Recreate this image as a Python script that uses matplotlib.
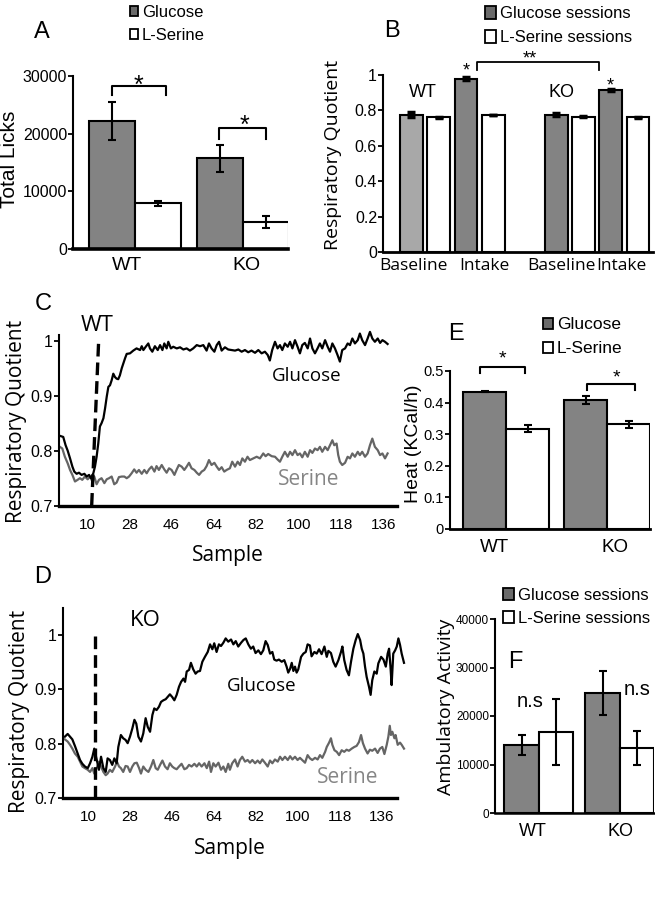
import matplotlib
matplotlib.use('Agg')
import matplotlib.pyplot as plt
from matplotlib.patches import Rectangle

SANS = 'Liberation Sans'
HUM = 'Open Sans'
plt.rcParams['font.family'] = [SANS, 'DejaVu Sans']

# ---------------- data ----------------
groups = ['WT', 'KO']
licks_glucose = [22200, 15700]
licks_glucose_err = [3300, 2300]
licks_serine = [7900, 4700]
licks_serine_err = [400, 1000]

rq_phases = ['Baseline', 'Intake', 'Baseline', 'Intake']
rq_glucose = [0.775, 0.98, 0.775, 0.915]
rq_glucose_err = [0.015, 0.006, 0.008, 0.007]
rq_serine = [0.76, 0.775, 0.765, 0.76]
rq_serine_err = [0.004, 0.0, 0.003, 0.004]

heat_glucose = [0.435, 0.408]
heat_glucose_err = [0.002, 0.012]
heat_serine = [0.318, 0.331]
heat_serine_err = [0.012, 0.010]

amb_glucose = [14000, 24700]
amb_glucose_err = [2000, 4500]
amb_serine = [16700, 13500]
amb_serine_err = [6800, 3500]

sample_ticks = [10, 28, 46, 64, 82, 100, 118, 136]

wt_glucose_sample = [-1.5, -0.1, 0.9, 1.8, 2.8, 3.8, 4.6, 5.6, 6.6, 7.7, 8.9, 9.9, 10.9, 11.7, 12.7, 13.4, 14.1,
                     14.8, 15.5, 16.2, 17.0, 17.7, 18.4, 19.1, 19.8, 20.5, 21.2, 21.9, 22.6, 23.3, 24.0, 24.8, 25.5,
                     26.2, 26.9, 28.3, 29.7, 31.1, 32.6, 33.3, 34.0, 35.0, 36.1, 36.8, 37.8, 38.9, 40.1, 41.1, 42.1,
                     42.9, 43.9, 44.6, 45.7, 46.7, 48.2, 49.6, 51.0, 52.4, 53.8, 55.2, 56.7, 58.1, 59.5, 60.9, 61.9,
                     63.0, 64.2, 65.2, 66.2, 67.3, 68.7, 70.1, 71.5, 73.0, 74.4, 75.8, 77.2, 78.6, 80.0, 81.5, 82.9,
                     84.3, 85.7, 86.9, 87.8, 88.8, 90.0, 91.1, 92.1, 93.1, 94.2, 95.4, 96.4, 97.4, 98.5, 99.6, 100.6,
                     101.6, 102.7, 103.9, 104.9, 105.9, 107.0, 108.1, 109.1, 110.1, 111.3, 112.4, 113.4, 114.4, 115.5,
                     116.6, 117.6, 118.6, 119.8, 120.9, 121.9, 122.9, 124.0, 125.2, 126.1, 127.1, 128.3, 129.4, 130.4,
                     131.4, 132.5, 133.7, 134.7, 135.7, 136.8, 137.9]
wt_glucose_rq = [0.827, 0.825, 0.81, 0.80, 0.786, 0.771, 0.762, 0.758, 0.76, 0.756, 0.758, 0.753, 0.756, 0.75, 0.759,
                 0.771, 0.789, 0.813, 0.844, 0.85, 0.859, 0.877, 0.898, 0.916, 0.919, 0.928, 0.94, 0.934, 0.931, 0.93,
                 0.937, 0.95, 0.959, 0.968, 0.976, 0.977, 0.982, 0.986, 0.983, 0.99, 0.983, 0.989, 0.995, 0.986, 0.98,
                 0.99, 0.983, 0.992, 0.983, 0.995, 0.986, 0.998, 0.986, 0.989, 0.986, 0.988, 0.984, 0.986, 0.982,
                 0.986, 0.992, 0.99, 0.992, 0.982, 0.995, 0.986, 0.98, 0.992, 0.998, 0.982, 0.988, 0.984,
                 0.983, 0.982, 0.984, 0.98, 0.983, 0.979, 0.982, 0.978, 0.983, 0.977, 0.98, 0.974, 0.964, 0.983,
                 0.998, 0.986, 0.992, 0.983, 0.995, 0.989, 0.998, 0.986, 1.001, 0.989, 0.977, 0.992, 0.996, 0.986,
                 1.004, 0.986, 0.977, 0.986, 0.995, 0.986, 1.001, 0.989, 0.98, 0.995, 0.986, 0.974, 0.962, 0.983,
                 0.986, 0.995, 0.992, 1.004, 0.995, 1.001, 1.013, 1.001, 0.992, 1.004, 1.016, 1.004, 0.998, 1.004,
                 0.996, 1.001, 0.998, 0.994]

wt_serine_sample = [-1.5, -0.5, 0.6, 1.8, 2.8, 3.8, 4.9, 6.0, 7.0, 8.0, 9.1, 10.3, 11.3, 12.3, 13.1, 14.1, 15.1, 16.2,
                    17.4, 18.4, 19.4, 20.5, 21.6, 22.6, 23.6, 24.8, 25.9, 26.9, 27.9, 29.0, 30.1, 31.1, 32.1, 33.3,
                    34.4, 35.4, 36.4, 37.5, 38.7, 39.6, 40.6, 41.8, 42.9, 43.9, 44.9, 46.0, 47.2, 48.2, 49.1, 50.3,
                    51.4, 52.4, 53.4, 54.5, 55.7, 56.7, 57.7, 58.8, 59.9, 60.9, 61.9, 63.0, 64.2, 65.2, 66.2, 67.3,
                    68.4, 69.4, 70.8, 71.8, 73.0, 74.1, 75.1, 76.1, 77.2, 78.3, 79.3, 80.8, 82.2, 83.6, 85.0, 86.0,
                    87.1, 88.6, 90.0, 91.1, 92.1, 93.1, 94.2, 95.4, 96.4, 97.4, 98.5, 99.6, 100.6, 101.6, 102.7, 103.9,
                    104.9, 105.9, 107.0, 108.1, 109.1, 110.1, 111.3, 112.4, 113.4, 114.4, 115.2, 116.2, 116.9, 117.6,
                    118.6, 119.8, 120.9, 121.9, 122.9, 124.0, 125.2, 126.1, 127.1, 128.3, 129.4, 130.4, 131.4, 132.5,
                    133.7, 134.7, 135.7, 136.8, 137.9]
wt_serine_rq = [0.807, 0.804, 0.789, 0.777, 0.765, 0.756, 0.744, 0.747, 0.75, 0.747, 0.753, 0.748, 0.753, 0.744, 0.753,
                0.739, 0.747, 0.75, 0.741, 0.748, 0.75, 0.753, 0.739, 0.742, 0.752, 0.753, 0.753, 0.75, 0.753, 0.759,
                0.766, 0.76, 0.765, 0.758, 0.765, 0.759, 0.766, 0.771, 0.762, 0.772, 0.765, 0.774, 0.766, 0.76, 0.768,
                0.765, 0.756, 0.766, 0.774, 0.771, 0.765, 0.771, 0.778, 0.768, 0.765, 0.76, 0.756, 0.762, 0.765,
                0.772, 0.783, 0.774, 0.778, 0.771, 0.765, 0.77, 0.762, 0.765,
                0.768, 0.78, 0.771, 0.78, 0.774, 0.786, 0.78, 0.789, 0.783, 0.786, 0.789, 0.786, 0.795, 0.79, 0.794,
                0.79, 0.789, 0.784, 0.78, 0.789, 0.798, 0.789, 0.798, 0.792, 0.801, 0.792, 0.795, 0.788, 0.798,
                0.789, 0.801, 0.796, 0.804, 0.801, 0.807, 0.798, 0.807, 0.801, 0.81, 0.819, 0.81, 0.813, 0.792, 0.78,
                0.774, 0.778, 0.789, 0.786, 0.795, 0.789, 0.798, 0.792, 0.798, 0.789, 0.795, 0.81, 0.822, 0.807,
                0.801, 0.792, 0.795, 0.786, 0.795]

ko_glucose_sample = [0.1, 1.3, 2.3, 3.3, 4.4, 5.6, 6.6, 7.6, 8.7, 9.9, 10.9, 11.9, 12.7, 13.3, 14.1, 14.7, 15.6, 16.6,
                     17.6, 18.4, 19.4, 20.4, 21.3, 22.3, 23.0, 24.1, 25.1, 26.1, 27.0, 28.0, 29.0, 29.9, 30.7, 31.6,
                     32.7, 33.7, 34.7, 35.6, 36.6, 37.6, 38.4, 39.4, 40.4, 41.3, 42.3, 43.3, 44.1, 45.1, 46.1, 47.0,
                     48.0, 49.0, 49.9, 50.9, 51.6, 52.3, 53.3, 54.1, 55.1, 56.1, 57.0, 58.0, 59.0, 60.1, 61.3, 62.3,
                     63.3, 64.1, 65.1, 66.1, 67.0, 68.0, 69.0, 70.1, 71.3, 72.3, 73.3, 74.4, 75.6, 76.6, 77.6, 78.7,
                     79.8, 80.8, 81.8, 83.0, 84.1, 85.1, 86.1, 87.0, 88.0, 89.0, 89.8, 90.8, 91.8, 93.0, 94.1, 95.1,
                     95.8, 96.6, 97.3, 98.0, 98.7, 99.4, 100.1, 101.3, 102.3, 103.3, 104.1, 105.1, 105.8, 107.0, 108.0,
                     109.0, 110.1, 111.3, 112.3, 113.0, 114.1, 115.1, 116.1, 117.3, 118.4, 119.0, 119.8, 120.8, 121.8,
                     122.7, 123.7, 124.7, 125.6, 126.6, 127.3, 128.0, 128.7, 129.4, 130.4, 131.1, 131.8, 132.7, 133.7,
                     134.4, 135.6, 136.6, 137.6, 138.4, 139.0, 139.6, 140.1, 140.8, 141.6, 142.3, 143.0, 143.7, 144.4,
                     145.4]
ko_glucose_rq = [0.813, 0.818, 0.813, 0.808, 0.796, 0.782, 0.77, 0.763, 0.758, 0.755, 0.764, 0.776, 0.791, 0.779, 0.764,
                 0.752, 0.776, 0.755, 0.748, 0.773, 0.77, 0.761, 0.773, 0.764, 0.794, 0.816, 0.81, 0.807, 0.801, 0.813,
                 0.828, 0.844, 0.837, 0.813, 0.804, 0.819, 0.847, 0.831, 0.822, 0.853, 0.865, 0.862, 0.868, 0.877,
                 0.88, 0.882, 0.886, 0.891, 0.886, 0.88, 0.89, 0.905, 0.914, 0.92, 0.914, 0.933, 0.936, 0.949, 0.937,
                 0.929, 0.933, 0.934, 0.951, 0.96, 0.969, 0.983, 0.974, 0.985, 0.969, 0.983, 0.98, 0.986, 0.994, 0.988,
                 0.992, 0.983, 0.989, 0.979, 0.986, 0.991, 0.994, 0.983, 0.975, 0.979, 0.967, 0.972, 0.965, 0.972,
                 0.989, 0.982, 0.966, 0.969, 0.955, 0.953, 0.955, 0.951, 0.954, 0.942, 0.931, 0.938, 0.949, 0.934,
                 0.942, 0.931, 0.937, 0.96, 0.966, 0.969, 0.983, 0.981, 0.961, 0.969, 0.966, 0.974, 0.965, 0.979, 0.96,
                 0.971, 0.967, 0.951, 0.942, 0.954, 0.969, 0.979, 0.954, 0.936, 0.926, 0.951, 0.975, 0.991, 1.002,
                 0.991, 0.975, 0.966, 0.942, 0.923, 0.905, 0.89, 0.917, 0.933, 0.929, 0.948, 0.96, 0.955, 0.942, 0.966,
                 0.975, 0.942, 0.908, 0.966, 0.972, 0.979, 0.994, 0.982, 0.966, 0.949]

ko_serine_sample = [0.1, 1.3, 2.3, 3.3, 4.4, 5.6, 6.6, 7.6, 8.7, 9.9, 10.9, 11.9, 12.7, 13.7, 14.7, 15.6, 16.6, 17.6,
                    18.4, 19.4, 20.4, 21.6, 22.4, 23.3, 24.1, 25.1, 26.1, 27.0, 28.0, 29.0, 29.9, 30.9, 31.9, 32.7,
                    33.7, 34.7, 35.9, 37.0, 38.0, 39.0, 39.9, 40.9, 41.9, 43.0, 44.1, 45.1, 46.1, 47.0, 48.0, 49.0,
                    50.1, 51.3, 52.3, 53.3, 54.4, 55.6, 56.6, 57.6, 58.7, 59.9, 60.9, 61.9, 62.7, 63.7, 64.7, 65.9,
                    67.0, 68.0, 69.0, 70.1, 70.8, 71.8, 73.0, 74.1, 75.1, 76.1, 77.3, 78.4, 79.4, 80.4, 81.6, 82.7,
                    83.7, 84.7, 85.8, 87.0, 88.0, 89.0, 90.1, 91.3, 92.3, 93.3, 94.4, 95.6, 96.6, 97.6, 98.7, 99.8,
                    100.8, 101.8, 103.0, 104.1, 105.1, 106.1, 107.3, 108.4, 109.4, 110.4, 111.6, 112.3, 113.3, 114.1,
                    114.7, 115.6, 116.6, 117.6, 118.7, 119.8, 120.8, 121.8, 123.0, 124.1, 125.1, 126.1, 127.0, 127.8,
                    128.7, 129.8, 130.8, 131.8, 133.0, 134.1, 135.1, 136.1, 137.0, 138.0, 138.7, 139.3, 139.8, 140.4,
                    141.3, 141.8, 142.7, 143.7, 144.4, 145.4]
ko_serine_rq = [0.808, 0.804, 0.798, 0.791, 0.782, 0.776, 0.767, 0.758, 0.755, 0.752, 0.748, 0.755, 0.745, 0.755, 0.767,
                0.758, 0.748, 0.742, 0.745, 0.752, 0.748, 0.758, 0.767, 0.758, 0.755, 0.748, 0.759, 0.758, 0.748,
                0.758, 0.764, 0.765, 0.755, 0.745, 0.758, 0.752, 0.748, 0.758, 0.77, 0.755, 0.752, 0.761, 0.769,
                0.758, 0.753, 0.764, 0.758, 0.755, 0.753, 0.758, 0.763, 0.753, 0.755, 0.761, 0.758, 0.763, 0.758,
                0.764, 0.758, 0.764, 0.755, 0.767, 0.748, 0.764, 0.758, 0.765, 0.752, 0.758, 0.748, 0.763,
                0.752, 0.764, 0.771, 0.758, 0.77, 0.776, 0.767, 0.77, 0.765, 0.77, 0.764, 0.769, 0.764, 0.771, 0.765,
                0.758, 0.769, 0.764, 0.771, 0.767, 0.776, 0.77, 0.776, 0.77, 0.777, 0.771, 0.776, 0.77, 0.774, 0.77,
                0.765, 0.779, 0.773, 0.77, 0.774, 0.771, 0.779, 0.774, 0.785, 0.794, 0.802, 0.81, 0.798, 0.788,
                0.785, 0.779, 0.788, 0.785, 0.789, 0.787, 0.791, 0.794, 0.796, 0.803, 0.816, 0.801, 0.791, 0.782,
                0.789, 0.787, 0.791, 0.783, 0.791, 0.794, 0.781, 0.798, 0.813, 0.833, 0.816, 0.822, 0.81, 0.816,
                0.798, 0.802, 0.798, 0.791]

# ---------------- styling ----------------
W, H = 655, 899
GLC = '#838383'
GLC_LIGHT = '#a8a8a8'
LEG_GLC = '#6a6a6a'
SER_LINE = '#656565'
SER_TEXT = '#858585'

fig = plt.figure(figsize=(W / 100, H / 100), dpi=100)


def add_axes(left, top, right, bottom):
    return fig.add_axes([left / W, 1 - bottom / H, (right - left) / W, (bottom - top) / H])


def ftext(x, y, s, **kw):
    fig.text(x / W, 1 - y / H, s, **kw)


def style(ax, bottom_lw=2.2, left_lw=1.5, ysize=11):
    for side in ('top', 'right'):
        ax.spines[side].set_visible(False)
    ax.spines['left'].set_linewidth(left_lw)
    ax.spines['bottom'].set_linewidth(bottom_lw)
    ax.tick_params(axis='y', direction='out', length=3.5, width=1.3, pad=0.8, labelsize=ysize)
    ax.tick_params(axis='x', length=0)


def legend(x, baselines, labels, colors, sq_w, sq_h, size=12):
    for yb, lab, col in zip(baselines, labels, colors):
        cy = yb - 6
        fig.add_artist(Rectangle((x / W, 1 - (cy + sq_h / 2) / H), sq_w / W, sq_h / H,
                                 transform=fig.transFigure, fc=col, ec='black', lw=1.3))
        ftext(x + sq_w + 4, yb, lab, fontsize=size, va='baseline', ha='left')


err_kw = dict(ecolor='black', elinewidth=1.5, capsize=3, capthick=1.5)

# ---------------- Panel A ----------------
axA = add_axes(73, 76, 288, 249)
xg = [0, 2.35]
xs = [1, 3.35]
axA.bar(xg, licks_glucose, width=1, color=GLC, edgecolor='black', lw=1.5, yerr=licks_glucose_err, error_kw=err_kw)
axA.bar(xs, licks_serine, width=1, color='white', edgecolor='black', lw=1.5, yerr=licks_serine_err, error_kw=err_kw)
axA.set_xlim(-0.848, 3.826)
axA.set_ylim(0, 30000)
style(axA, bottom_lw=2.6, ysize=11.5)
axA.set_yticks([0, 10000, 20000, 30000])
axA.set_xticks([0.33, 2.93], groups)
axA.tick_params(axis='x', labelsize=14, pad=6)
axA.plot([0, 0, 1.17, 1.17], [26700, 28266, 28266, 26700], color='black', lw=1.5, clip_on=False)
axA.plot([2.33, 2.33, 3.35, 3.35], [19075, 20980, 20980, 19075], color='black', lw=1.5, clip_on=False)
axA.text(0.57, 27050, '*', fontsize=18, ha='center', va='baseline')
axA.text(2.89, 20115, '*', fontsize=18, ha='center', va='baseline')
ftext(10, 159, 'Total Licks', rotation=90, fontsize=15, ha='center', va='center')
ftext(42, 38, 'A', fontsize=17, ha='center', va='baseline')
legend(130, [17, 40], ['Glucose', 'L-Serine'], [LEG_GLC, 'white'], 8, 10)

# ---------------- Panel B ----------------
axB = add_axes(383, 75, 653, 252)
bx_g = [0, 2, 5.3, 7.3]
bx_s = [1, 3, 6.3, 8.3]
glc_colors = [GLC_LIGHT, GLC, GLC, GLC]
bw = 0.84
ekB = dict(ecolor='black', elinewidth=2.5, capsize=3, capthick=2.5)
axB.bar(bx_g, rq_glucose, width=bw, color=glc_colors, edgecolor='black', lw=1.5, yerr=rq_glucose_err, error_kw=ekB)
axB.bar(bx_s, rq_serine, width=bw, color='white', edgecolor='black', lw=1.5, yerr=rq_serine_err, error_kw=ekB)
axB.set_xlim(-1.04, 8.85)
axB.set_ylim(0, 1)
style(axB, bottom_lw=2.0, ysize=11.5)
axB.set_yticks([0, 0.2, 0.4, 0.6, 0.8, 1.0], ['0', '0.2', '0.4', '0.6', '0.8', '1'])
axB.set_xticks([0.07, 2.66, 5.5, 7.7], rq_phases)
axB.tick_params(axis='x', labelsize=12.5, pad=4)
for lbl in axB.get_xticklabels():
    lbl.set_family(HUM)
axB.text(0.42, 0.876, 'WT', fontsize=13, ha='center', va='baseline')
axB.text(5.51, 0.876, 'KO', fontsize=13, ha='center', va='baseline')
axB.text(2.0, 0.998, '*', fontsize=13, ha='center', va='baseline')
axB.text(7.3, 0.913, '*', fontsize=13, ha='center', va='baseline')
axB.plot([2.40, 2.40, 6.87, 6.87], [1.028, 1.075, 1.075, 1.028], color='black', lw=1.3, clip_on=False)
axB.text(4.34, 1.066, '**', fontsize=13, ha='center', va='baseline')
ftext(333, 155, 'Respiratory Quotient', rotation=90, fontsize=14, ha='center', va='center', family=HUM)
ftext(392, 37, 'B', fontsize=17, ha='center', va='baseline')
legend(485, [18, 42], ['Glucose sessions', 'L-Serine sessions'], [LEG_GLC, 'white'], 11, 13)


# ---------------- Panels C & D ----------------
def rq_panel(ax, xlim, ylim, gx, gy, sx, sy):
    ax.plot(sx, sy, color=SER_LINE, lw=1.6, clip_on=False)
    ax.plot(gx, gy, color='black', lw=1.6, clip_on=False)
    ax.set_xlim(*xlim)
    ax.set_ylim(*ylim)
    style(ax, bottom_lw=2.4, ysize=11.5)
    ax.set_yticks([0.7, 0.8, 0.9, 1.0], ['0.7', '0.8', '0.9', '1'])
    ax.set_xticks(sample_ticks)
    ax.tick_params(axis='x', labelsize=11, pad=8.5)
    ax.set_xlabel('Sample', family=HUM, fontsize=15, labelpad=10)


axC = add_axes(59, 335.2, 397, 505.7)
rq_panel(axC, (-1.9, 141.9), (0.7, 1.01), wt_glucose_sample, wt_glucose_rq, wt_serine_sample, wt_serine_rq)
axC.plot([12.0, 15.0], [0.7, 1.0025], color='black', lw=2.4, ls=(0, (3.8, 1.8)), clip_on=False)
ftext(17, 421, 'Respiratory Quotient', rotation=90, fontsize=15, ha='center', va='center', family=HUM)
ftext(97, 331, 'WT', fontsize=16, ha='center', va='baseline', family=HUM)
ftext(307, 381, 'Glucose', fontsize=13.5, ha='center', va='baseline', family=HUM)
ftext(309, 485, 'Serine', fontsize=15, ha='center', va='baseline', family=HUM, color=SER_TEXT)
ftext(43, 310, 'C', fontsize=17, ha='center', va='baseline')

axD = add_axes(63, 608, 397, 798)
rq_panel(axD, (-0.7, 142.4), (0.7, 1.05), ko_glucose_sample, ko_glucose_rq, ko_serine_sample, ko_serine_rq)
axD.plot([13.0, 13.0], [0.7, 1.005], color='black', lw=2.4, ls=(0, (3.8, 1.8)), clip_on=False)
ftext(20, 711, 'Respiratory Quotient', rotation=90, fontsize=15, ha='center', va='center', family=HUM)
ftext(145, 626, 'KO', fontsize=16, ha='center', va='baseline', family=HUM)
ftext(262, 691, 'Glucose', fontsize=13.5, ha='center', va='baseline', family=HUM)
ftext(348, 783, 'Serine', fontsize=15, ha='center', va='baseline', family=HUM, color=SER_TEXT)
ftext(43, 583, 'D', fontsize=17, ha='center', va='baseline')

# ---------------- Panel E ----------------
axE = add_axes(450, 371, 650, 529)
axE.bar(xg, heat_glucose, width=1, color=GLC, edgecolor='black', lw=1.5, yerr=heat_glucose_err, error_kw=err_kw)
axE.bar(xs, heat_serine, width=1, color='white', edgecolor='black', lw=1.5, yerr=heat_serine_err, error_kw=err_kw)
axE.set_xlim(-0.814, 3.84)
axE.set_ylim(0, 0.5)
style(axE, bottom_lw=2.0, ysize=10.5)
axE.set_yticks([0, 0.1, 0.2, 0.3, 0.4, 0.5], ['0', '0.1', '0.2', '0.3', '0.4', '0.5'])
axE.set_xticks([0.23, 3.02], groups)
axE.tick_params(axis='x', labelsize=13.5, pad=7)
axE.plot([-0.12, -0.12, 0.93, 0.93], [0.494, 0.513, 0.513, 0.494], color='black', lw=1.5, clip_on=False)
axE.plot([2.37, 2.37, 3.49, 3.49], [0.44, 0.459, 0.459, 0.44], color='black', lw=1.5, clip_on=False)
axE.text(0.4, 0.525, '*', fontsize=14, ha='center', va='baseline')
axE.text(3.07, 0.465, '*', fontsize=14, ha='center', va='baseline')
ftext(414, 444, 'Heat (KCal/h)', rotation=90, fontsize=14, ha='center', va='center')
ftext(456, 340, 'E', fontsize=17, ha='center', va='baseline')
legend(543, [329, 353], ['Glucose', 'L-Serine'], [LEG_GLC, 'white'], 10, 11, size=12.5)

# ---------------- Panel F ----------------
axF = add_axes(495, 619, 654, 813)
axF.bar(xg, amb_glucose, width=1, color=GLC, edgecolor='black', lw=1.5, yerr=amb_glucose_err, error_kw=err_kw)
axF.bar(xs, amb_serine, width=1, color='white', edgecolor='black', lw=1.5, yerr=amb_serine_err, error_kw=err_kw)
axF.set_xlim(-0.77, 3.84)
axF.set_ylim(0, 40000)
style(axF, bottom_lw=1.8, ysize=8.5)
axF.set_yticks([0, 10000, 20000, 30000, 40000])
axF.set_xticks([0.33, 2.86], groups)
axF.tick_params(axis='x', labelsize=13, pad=7)
axF.text(0.25, 21860, 'n.s', fontsize=14.5, ha='center', va='baseline')
axF.text(3.35, 24330, 'n.s', fontsize=14.5, ha='center', va='baseline')
ftext(446, 707, 'Ambulatory Activity', rotation=90, fontsize=14, ha='center', va='center', family=HUM)
ftext(515, 668, 'F', fontsize=17, ha='center', va='baseline')
legend(503, [600, 623], ['Glucose sessions', 'L-Serine sessions'], [LEG_GLC, 'white'], 11, 12)

fig.savefig('out.png', dpi=100)
